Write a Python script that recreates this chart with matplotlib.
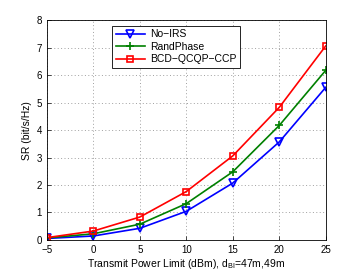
import matplotlib
matplotlib.use('Agg')
import matplotlib.pyplot as plt

# transmit power (dBm)
power = [-5, 0, 5, 10, 15, 20, 25]
sr_noirs = [0.05, 0.14, 0.42, 1.04, 2.07, 3.57, 5.56]
sr_rand = [0.07, 0.22, 0.57, 1.32, 2.48, 4.17, 6.18]
sr_bcd = [0.08, 0.32, 0.83, 1.76, 3.06, 4.83, 7.07]

plt.rcParams['font.family'] = ['Liberation Sans', 'DejaVu Sans']
plt.rcParams['mathtext.fontset'] = 'custom'
plt.rcParams['mathtext.rm'] = 'Liberation Sans'
plt.rcParams['font.size'] = 7.5
fig = plt.figure(figsize=(3.6, 2.71), dpi=100)
ax = fig.add_axes([0.13, 0.115, 0.775, 0.81])

ax.plot(power, sr_noirs, '-v', color='b', lw=1.2, ms=6, mfc='none', mew=1.2, label='No\u2212IRS')
ax.plot(power, sr_rand, '-+', color='g', lw=1.2, ms=6, mew=1.2, label='RandPhase')
ax.plot(power, sr_bcd, '-s', color='r', lw=1.2, ms=5, mfc='none', mew=1.2, label='BCD\u2212QCQP\u2212CCP')

ax.set_xlim(-5, 25)
ax.set_ylim(0, 8)
ax.set_xticks(power)
ax.set_xticklabels(['\u22125', '0', '5', '10', '15', '20', '25'])
ax.set_yticks(range(9))
ax.grid(True, linestyle=(0, (1, 2.5)), color='#a0a0a0', lw=0.7)
ax.tick_params(direction='in', length=3, width=0.5, labelsize=7)
for s in ax.spines.values():
    s.set_linewidth(0.6)

ax.set_xlabel('Transmit Power Limit (dBm), d$_{\\mathrm{BI}}$=47m,49m', fontsize=7.5, labelpad=1.5)
ax.set_ylabel('SR (bit/s/Hz)', fontsize=7.5, labelpad=3)

leg = ax.legend(loc='upper left', bbox_to_anchor=(0.215, 1.0), fancybox=False,
                edgecolor='k', framealpha=1, fontsize=7.5, handlelength=2.8,
                borderpad=0.35, labelspacing=0.25, handletextpad=0.5)
leg.get_frame().set_linewidth(0.6)

fig.savefig('out.png', dpi=100)
